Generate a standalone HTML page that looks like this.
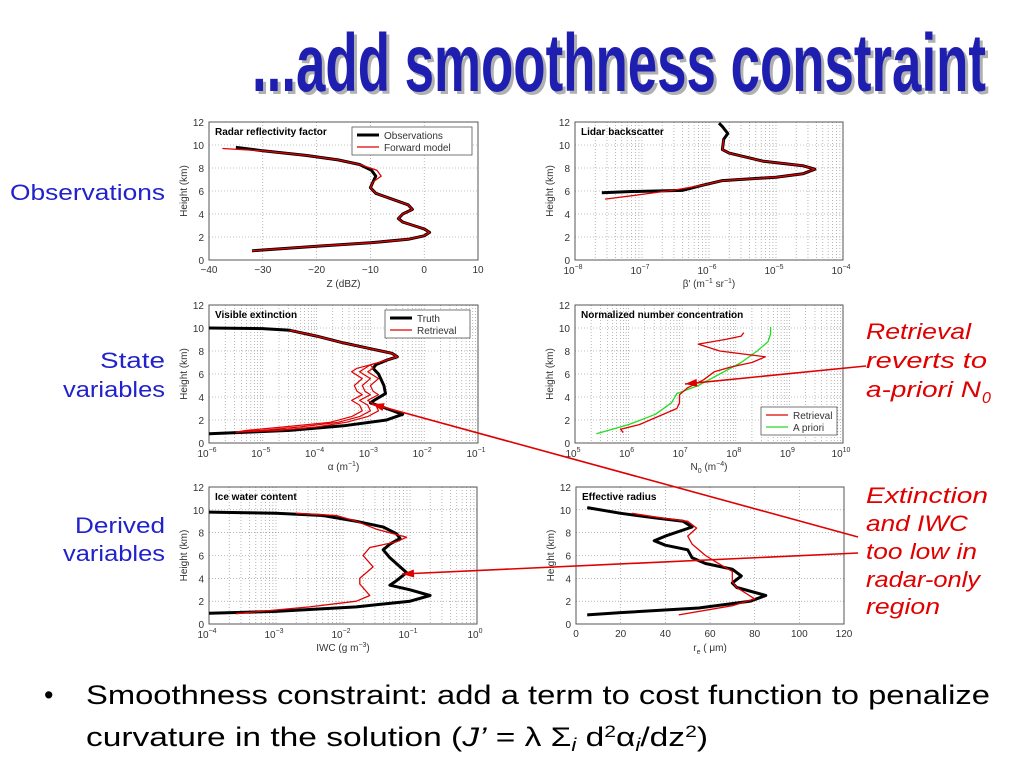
<!DOCTYPE html>
<html><head><meta charset="utf-8"><style>
html,body{margin:0;padding:0;background:#fff;width:1024px;height:768px;overflow:hidden}
svg{display:block}
</style></head><body>
<svg id="s" width="1024" height="768" xmlns="http://www.w3.org/2000/svg" font-family="Liberation Sans, sans-serif">
<text x="252" y="91" font-size="82" font-weight="bold" fill="#b0b0b0" textLength="734" lengthAdjust="spacingAndGlyphs" transform="translate(3,3)">...add smoothness constraint</text>
<text x="252" y="91" font-size="82" font-weight="bold" fill="#1e1eb0" textLength="734" lengthAdjust="spacingAndGlyphs">...add smoothness constraint</text>
<g font-size="22" fill="#2222cc" lengthAdjust="spacingAndGlyphs">
<text x="10" y="200" textLength="155" lengthAdjust="spacingAndGlyphs">Observations</text>
<text x="100" y="368" textLength="65" lengthAdjust="spacingAndGlyphs">State</text><text x="63" y="397" textLength="102" lengthAdjust="spacingAndGlyphs">variables</text>
<text x="75" y="533" textLength="90" lengthAdjust="spacingAndGlyphs">Derived</text><text x="63" y="561" textLength="102" lengthAdjust="spacingAndGlyphs">variables</text>
</g>
<g font-size="22" fill="#e00000" font-style="italic">
<text x="866" y="339" textLength="105" lengthAdjust="spacingAndGlyphs">Retrieval</text><text x="866" y="368" textLength="121" lengthAdjust="spacingAndGlyphs">reverts to</text><text x="866" y="397" textLength="115" lengthAdjust="spacingAndGlyphs">a-priori N</text><text x="982" y="403" font-size="16">0</text>
<text x="866" y="503" textLength="122" lengthAdjust="spacingAndGlyphs">Extinction</text><text x="866" y="531" textLength="102" lengthAdjust="spacingAndGlyphs">and IWC</text><text x="866" y="559" textLength="111" lengthAdjust="spacingAndGlyphs">too low in</text><text x="866" y="587" textLength="114" lengthAdjust="spacingAndGlyphs">radar-only</text><text x="866" y="614" textLength="74" lengthAdjust="spacingAndGlyphs">region</text>
</g>
<g font-size="27" fill="#000">
<text x="44" y="704">•</text>
<text x="86" y="704" textLength="904" lengthAdjust="spacingAndGlyphs">Smoothness constraint: add a term to cost function to penalize</text>
<text x="86" y="746" textLength="622" lengthAdjust="spacingAndGlyphs">curvature in the solution (<tspan font-style="italic">J’</tspan> = λ Σ<tspan font-style="italic" font-size="18" dy="5">i</tspan><tspan dy="-5"> d</tspan><tspan font-size="17" dy="-9">2</tspan><tspan dy="9">α</tspan><tspan font-style="italic" font-size="18" dy="5">i</tspan><tspan dy="-5">/dz</tspan><tspan font-size="17" dy="-9">2</tspan><tspan dy="9">)</tspan></text>
</g>
<g id="plots"></g>
<g id="arrows" stroke="#e00000" stroke-width="1.6" fill="#e00000"></g>
</svg>
<script>
var NS="http://www.w3.org/2000/svg",G=document.getElementById('plots');
function el(t,a,p,txt){var e=document.createElementNS(NS,t);for(var k in a)e.setAttribute(k,a[k]);if(txt!=null)e.textContent=txt;(p||G).appendChild(e);return e;}
function panel(o){
 var X=function(v){return o.x0+(v-o.a)/(o.b-o.a)*(o.x1-o.x0)},Y=function(h){return o.y1-h/12*(o.y1-o.y0)};
 var g=el('g',{});
 var gl=[];
 if(o.log){for(var d=o.a;d<o.b;d++){for(var m=1;m<10;m++){if(d==o.a&&m==1)continue;gl.push(d+Math.log10(m));}}}
 else{for(var v=o.a+o.step;v<o.b;v+=o.step)gl.push(v);}
 gl.forEach(function(v){el('line',{x1:X(v),x2:X(v),y1:o.y0,y2:o.y1,stroke:'#888','stroke-width':0.6,'stroke-dasharray':'1,2'},g)});
 for(var h=2;h<12;h+=2)el('line',{x1:o.x0,x2:o.x1,y1:Y(h),y2:Y(h),stroke:'#888','stroke-width':0.6,'stroke-dasharray':'1,2'},g);
 el('rect',{x:o.x0,y:o.y0,width:o.x1-o.x0,height:o.y1-o.y0,fill:'none',stroke:'#555','stroke-width':1},g);
 for(var h=0;h<=12;h+=2){el('text',{x:o.x0-5,y:Y(h)+4,'font-size':10,'text-anchor':'end',fill:'#333'},g,h);}
 el('text',{x:0,y:0,'font-size':10,fill:'#333','text-anchor':'middle',transform:'translate('+(o.x0-22)+','+((o.y0+o.y1)/2)+') rotate(-90)'},g,'Height (km)');
 if(o.log){for(var d=o.a;d<=o.b;d++){var t=el('text',{x:X(d)-2,y:o.y1+14,'font-size':10,'text-anchor':'middle',fill:'#333'},g,'10');el('tspan',{'font-size':7,dy:-5},t,String(d).replace('-','−'));}}
 else{for(var v=o.a;v<=o.b;v+=o.step)el('text',{x:X(v),y:o.y1+13,'font-size':10,'text-anchor':'middle',fill:'#333'},g,String(v).replace('-','−'));}
 var xl=el('text',{x:(o.x0+o.x1)/2,y:o.y1+27,'font-size':10,'text-anchor':'middle',fill:'#333'},g);xl.innerHTML=o.xl;
 el('text',{x:o.x0+6,y:o.y0+13,'font-size':10,'font-weight':'bold'},g,o.title);
 (o.series||[]).forEach(function(s){var p=s.d.map(function(q){return X(q[0]).toFixed(1)+','+Y(q[1]).toFixed(1)}).join(' ');el('polyline',{points:p,fill:'none',stroke:s.c,'stroke-width':s.w,'stroke-linejoin':'round'},g)});
 if(o.leg){var L=o.leg;el('rect',{x:L.x,y:L.y,width:L.w,height:L.items.length*12+4,fill:'#fff',stroke:'#555','stroke-width':0.8},g);
  L.items.forEach(function(it,i){var yy=L.y+8+i*12;el('line',{x1:L.x+5,x2:L.x+27,y1:yy,y2:yy,stroke:it[1],'stroke-width':it[2]},g);el('text',{x:L.x+32,y:yy+4,'font-size':10,fill:'#333'},g,it[0]);});}
}
var K='#000',R='#e00000';
var obs=[[-32,0.8],[-20,1.2],[-10,1.5],[-3,1.8],[0,2.1],[1,2.4],[0,2.7],[-2,3],[-4,3.3],[-4.8,3.6],[-4,4],[-2.2,4.4],[-3,4.8],[-6,5.3],[-9,5.8],[-10,6.3],[-9.5,6.8],[-9,7.3],[-9.8,7.8],[-12,8.3],[-16,8.7],[-22,9.1],[-30,9.5],[-35,9.8]];
var fwd=obs.map(function(p){return [p[0]+(p[1]>7&&p[1]<7.9?1:0),p[1]]});fwd[fwd.length-1]=[-37.5,9.7];
panel({x0:209,x1:478,y0:122,y1:260,a:-40,b:10,step:10,title:'Radar reflectivity factor',xl:'Z (dBZ)',
 series:[{d:obs,c:K,w:3},{d:fwd,c:R,w:1.3}],leg:{x:352,y:127,w:120,items:[['Observations',K,3],['Forward model',R,1.3]]}});
var lb=[[-7.6,5.85],[-7.2,5.95],[-6.4,6.05],[-6.1,6.5],[-5.8,6.9],[-5,7.2],[-4.6,7.5],[-4.42,7.9],[-4.6,8.2],[-5.2,8.6],[-5.7,9.3],[-5.8,9.6],[-5.78,10.5],[-5.72,11],[-5.8,11.6],[-5.85,11.9]];
var lr=[[-7.55,5.3],[-7.0,5.7],[-6.5,6.1],[-6.1,6.5],[-5.8,6.9],[-5,7.2],[-4.6,7.5],[-4.42,7.9],[-4.6,8.2],[-5.2,8.6],[-5.7,9.3],[-5.8,9.6],[-5.78,10.5]];
panel({x0:575,x1:843,y0:122,y1:260,a:-8,b:-4,log:1,title:'Lidar backscatter',xl:'β\' (m<tspan font-size="7" dy="-4">−1</tspan><tspan dy="4"> sr</tspan><tspan font-size="7" dy="-4">−1</tspan><tspan dy="4">)</tspan>',
 series:[{d:lb,c:K,w:3},{d:lr,c:R,w:1.3}]});
var ext=[[-6,10],[-5,9.95],[-4.5,9.8],[-4,9.3],[-3.5,8.7],[-3,8.2],[-2.6,7.8],[-2.5,7.5],[-2.7,7.2],[-2.9,6.8],[-2.95,6.5],[-2.85,6],[-2.75,5],[-2.72,4.3],[-2.9,3.8],[-3,3.5],[-2.7,3],[-2.4,2.5],[-2.7,2],[-3.5,1.5],[-4.5,1.1],[-6,0.8]];
function ret(off){return [[-4.5,9.8],[-4,9.3],[-3.5,8.7],[-3,8.2],[-2.6,7.8],[-2.5,7.5],[-2.7,7.2],[-3.0,6.8],[-3.1+off,6.5],[-3.2+off,6.2],[-3.0+off,5.6],[-3.15+off,5],[-3.1+off,4.5],[-3.0+off,4.2],[-3.2+off,3.7],[-3.05+off,3.3],[-3.0+off,2.8],[-3.2+off,2.3],[-3.6+off,1.8],[-4.3+off*2,1.4],[-5+off*2,1.1],[-5.5,0.95]];}
panel({x0:209,x1:478,y0:305,y1:443,a:-6,b:-1,log:1,title:'Visible extinction',xl:'α (m<tspan font-size="7" dy="-4">−1</tspan><tspan dy="4">)</tspan>',
 series:[{d:ext,c:K,w:3},{d:ret(-0.15),c:R,w:1.2},{d:ret(0),c:R,w:1.2},{d:ret(0.15),c:R,w:1.2}],leg:{x:385,y:310,w:85,items:[['Truth',K,3],['Retrieval',R,1.3]]}});
var nr=[[5.9,0.9],[5.85,1.2],[6.2,1.6],[6.4,2],[6.9,3],[6.95,3.5],[6.95,4.2],[7.1,4.8],[7.4,5.5],[7.6,6.2],[7.9,6.6],[8.3,7],[8.55,7.5],[7.7,8],[7.3,8.6],[7.8,9],[8.1,9.3],[8.15,9.6]];
var na=[[5.4,0.8],[6,1.6],[6.5,2.5],[6.8,3.5],[6.9,4.3],[7.3,5],[7.7,6],[8.1,7],[8.4,8],[8.6,8.8],[8.65,9.5],[8.65,10.1]];
panel({x0:575,x1:843,y0:305,y1:443,a:5,b:10,log:1,title:'Normalized number concentration',xl:'N<tspan font-size="7" dy="3">0</tspan><tspan dy="-3"> (m</tspan><tspan font-size="7" dy="-4">−4</tspan><tspan dy="4">)</tspan>',
 series:[{d:na,c:'#22dd22',w:1.3},{d:nr,c:R,w:1.3}],leg:{x:761,y:407,w:76,items:[['Retrieval',R,1.3],['A priori','#22dd22',1.3]]}});
var iw=[[-4,9.8],[-3,9.7],[-2.3,9.5],[-1.8,9],[-1.4,8.5],[-1.2,7.9],[-1.15,7.5],[-1.3,7],[-1.4,6.5],[-1.3,5.8],[-1.05,4.5],[-1.2,3.8],[-1.3,3.4],[-1,3],[-0.7,2.5],[-1,2],[-1.8,1.5],[-3,1.1],[-4,0.95]];
var ir=[[-2.7,9.7],[-2.1,9.5],[-1.8,9],[-1.5,8.3],[-1.05,7.6],[-1.2,7.2],[-1.6,6.7],[-1.7,6],[-1.55,5],[-1.75,4],[-1.75,3.5],[-1.6,2.5],[-1.8,2],[-2.5,1.5],[-3.6,0.9]];
panel({x0:209,x1:477,y0:487,y1:624,a:-4,b:0,log:1,title:'Ice water content',xl:'IWC (g m<tspan font-size="7" dy="-4">−3</tspan><tspan dy="4">)</tspan>',
 series:[{d:iw,c:K,w:3},{d:ir,c:R,w:1.3}]});
var rt=[[5,10.2],[20,9.7],[35,9.3],[48,9],[52,8.5],[40,7.7],[35,7.3],[40,6.9],[50,6.5],[52,5.8],[58,5.3],[70,4.8],[74,4.2],[70,3.6],[72,3.2],[85,2.5],[78,2],[55,1.4],[20,1],[5,0.8]];
var rr=[[25,9.7],[38,9.3],[50,9],[54,8.4],[50,7.7],[52,7],[58,6],[63,5.4],[70,4.6],[70,3.7],[72,3.2],[80,2.2],[70,1.6],[46,0.8]];
panel({x0:576,x1:844,y0:487,y1:624,a:0,b:120,step:20,title:'Effective radius',xl:'r<tspan font-size="7" dy="3">e</tspan><tspan dy="-3"> ( μm)</tspan>',
 series:[{d:rt,c:K,w:3},{d:rr,c:R,w:1.3}]});
var A=document.getElementById('arrows');
function arrow(x1,y1,x2,y2){el('line',{x1:x1,y1:y1,x2:x2,y2:y2},A);var a=Math.atan2(y2-y1,x2-x1),L=12,W=4;
 var p=[[x2,y2],[x2-L*Math.cos(a)+W*Math.sin(a),y2-L*Math.sin(a)-W*Math.cos(a)],[x2-L*Math.cos(a)-W*Math.sin(a),y2-L*Math.sin(a)+W*Math.cos(a)]];
 el('polygon',{points:p.map(function(q){return q.join(',')}).join(' '),stroke:'none'},A);}
arrow(866,366,685,384);
arrow(858,537,372,404);
arrow(858,553,402,574);
</script>
</body></html>
